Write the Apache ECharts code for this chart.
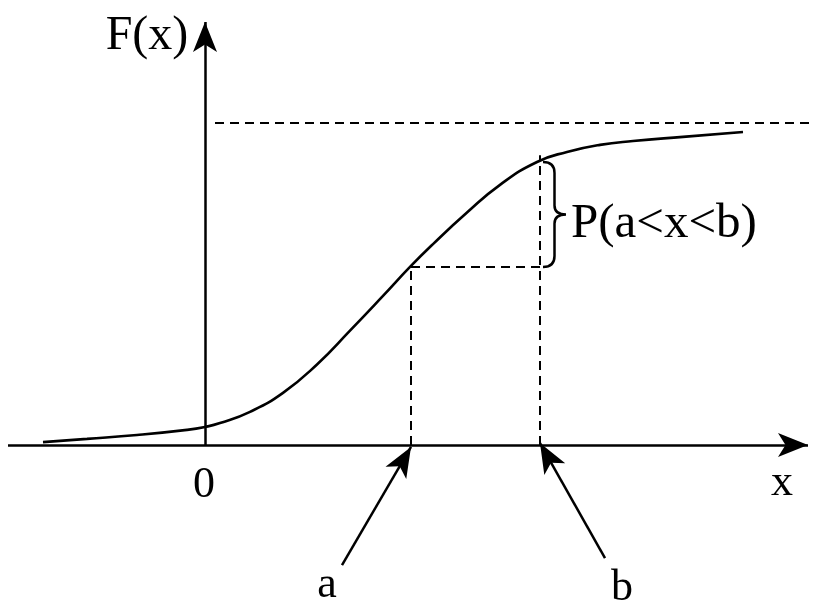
<!DOCTYPE html>
<html>
<head>
<meta charset="utf-8">
<script src="https://cdn.jsdelivr.net/npm/echarts@6/dist/echarts.min.js"></script>
<style>html,body{margin:0;padding:0;background:#fff}#c{width:815px;height:614px}</style>
</head>
<body>
<div id="c"></div>
<script>
// ---- data ----
const curveX = [-1.62,-1.18,-0.68,-0.18,0,0.15,0.45,0.78,1.12,1.45,1.78,2.05,2.28,2.62,2.95,3.32,3.62,3.95,4.28,4.78,5.38];
const curveY = [0.009,0.019,0.031,0.047,0.056,0.068,0.103,0.162,0.250,0.355,0.463,0.553,0.624,0.722,0.808,0.879,0.910,0.932,0.944,0.957,0.972];
const aVal = 2.06, bVal = 3.35;
const Fa = 0.553, Fb = 0.879;
const asymptote = 1.0;
const labelTexts = ['F(x)', '0', 'x', 'a', 'b', 'P(a<x<b)'];
const labelPos = [[-0.58, 1.27], [-0.01, -0.125], [5.77, -0.12], [1.22, -0.435], [4.17, -0.445], [3.66, 0.685]];

const FONT = '"Liberation Serif", "DejaVu Serif", serif';
const chart = echarts.init(document.getElementById('c'));
const curve = curveX.map((x, i) => [x, curveY[i]]);

function seg(p1, p2, sym) {
  return [{coord: p1, symbol: 'none'}, {coord: p2, symbol: sym || 'none'}];
}

const option = {
  animation: false,
  grid: {left: 0, right: 0, top: 0, bottom: 0},
  xAxis: {type: 'value', min: -2.05, max: 6.10, show: false},
  yAxis: {type: 'value', min: -169/322, max: 445/322, show: false},
  series: [
    { // axes and pointer arrows
      type: 'line', data: [], silent: true,
      markLine: {
        silent: true, animation: false,
        label: {show: false},
        lineStyle: {color: '#000', width: 2.5, type: 'solid', opacity: 1},
        symbolSize: [18, 30],
        data: [
          seg([-1.97, 0], [6.03, 0], 'arrow'),
          seg([0, 0], [0, 1.314], 'arrow'),
          seg([1.37, -0.373], [2.06, -0.006], 'arrow'),
          seg([4.00, -0.351], [3.35, 0.006], 'arrow')
        ]
      }
    },
    { // dashed guides
      type: 'line', data: [], silent: true,
      markLine: {
        silent: true, animation: false,
        label: {show: false},
        symbol: ['none', 'none'],
        lineStyle: {color: '#000', width: 2, type: [9, 6], opacity: 1},
        data: [
          seg([0.10, asymptote], [6.10, asymptote]),
          seg([aVal, 0], [aVal, Fa]),
          seg([bVal, 0], [bVal, 0.90]),
          seg([aVal, Fa], [bVal, Fa])
        ]
      }
    },
    { // CDF curve
      type: 'line', data: curve, smooth: 0.5, showSymbol: false, symbol: 'none',
      lineStyle: {color: '#000', width: 2.6}, silent: true
    },
    { // brace
      type: 'custom', silent: true,
      data: [[bVal, Fa, Fb]],
      renderItem: function (params, api) {
        const top = api.coord([api.value(0), api.value(2)]);
        const bot = api.coord([api.value(0), api.value(1)]);
        const x0 = top[0] + 3, t = top[1], bm = bot[1], m = (t + bm) / 2;
        const w = 23, h = w / 2;
        const d = 'M' + x0 + ',' + t +
          ' Q' + (x0 + h) + ',' + t + ' ' + (x0 + h) + ',' + (t + 11) +
          ' L' + (x0 + h) + ',' + (m - 9) +
          ' Q' + (x0 + h) + ',' + m + ' ' + (x0 + w) + ',' + m +
          ' Q' + (x0 + h) + ',' + m + ' ' + (x0 + h) + ',' + (m + 9) +
          ' L' + (x0 + h) + ',' + (bm - 11) +
          ' Q' + (x0 + h) + ',' + bm + ' ' + x0 + ',' + bm;
        return {type: 'path', shape: {pathData: d}, style: {fill: 'none', stroke: '#000', lineWidth: 2.5}};
      }
    },
    { // text labels
      type: 'scatter', symbolSize: 0, silent: true,
      itemStyle: {opacity: 1},
      data: labelTexts.map((t, i) => ({
        name: t, value: labelPos[i],
        label: {
          show: true, formatter: t, position: i === 5 ? 'right' : 'inside',
          distance: 0, opacity: 1,
          color: '#000', fontFamily: FONT,
          fontSize: i === 0 ? 48 : (i === 5 ? 49 : 44)
        }
      }))
    }
  ]
};
chart.setOption(option);
</script>
</body>
</html>
